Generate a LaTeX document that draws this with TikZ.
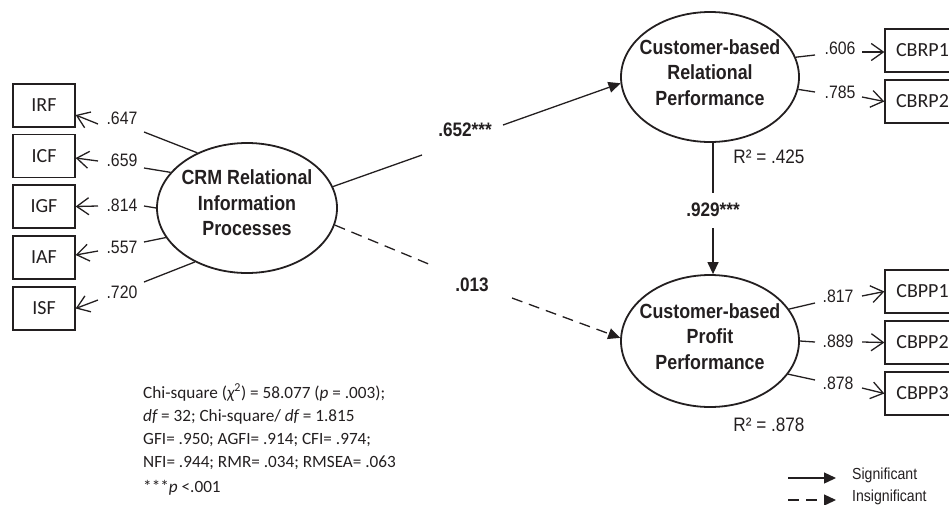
\documentclass[tikz,border=0pt]{standalone}
\usepackage{fontspec}
\setmainfont{Liberation Sans}
\newfontfamily\narrowsans[FakeStretch=0.88]{Liberation Sans}
\newfontfamily\latentfont[FakeStretch=0.87]{Liberation Sans}
\newfontfamily\calfont{Carlito}
\usetikzlibrary{shapes.geometric,arrows.meta}
\definecolor{ink}{HTML}{231F20}

\begin{document}
\begin{tikzpicture}[x=1pt,y=-1pt,
  every node/.style={text=ink},
  latent/.style={draw=ink, line width=1.8pt, ellipse, minimum width=180pt,
    minimum height=130pt, inner sep=0pt},
  latenttext/.style={font=\latentfont\bfseries\fontsize{20.5}{25.5}\selectfont,
    align=center, inner sep=0pt},
  indicator/.style={draw=ink, line width=1.3pt, minimum width=62pt,
    minimum height=43pt, inner sep=0pt, font=\calfont\fontsize{20}{22}\selectfont},
  loading/.style={font=\narrowsans\fontsize{18}{20}\selectfont, inner sep=0pt},
  pathcoef/.style={font=\narrowsans\bfseries\fontsize{19.5}{22}\selectfont, inner sep=0pt},
  rsq/.style={font=\narrowsans\fontsize{19.5}{22}\selectfont, inner sep=0pt},
  legendtext/.style={font=\narrowsans\fontsize{16}{18}\selectfont, inner sep=0pt, anchor=west},
  wire/.style={draw=ink, line width=1.3pt},
  dashedwire/.style={wire, dash pattern=on 11pt off 7pt},
  barb/.style={wire, -{Straight Barb[length=12pt,width=17pt]}},
  sig/.style={wire, -{Triangle[length=12pt,width=11pt]}},
  insig/.style={sig, dash pattern=on 11pt off 7pt},
]
\useasboundingbox (0,0) rectangle (949,504);

% latent constructs
\node[latent] (crm) at (247,208) {};
\node[latenttext] (crmtext) at (247,203) {CRM Relational\\Information\\Processes};
\node[latent, minimum width=178pt] (cbrp) at (710,77) {};
\node[latenttext] (cbrptext) at (710,72.5) {Customer-based\\Relational\\Performance};
\node[latent, minimum width=178pt, minimum height=132pt] (cbpp) at (710,341) {};
\node[latenttext] (cbpptext) at (710,336.5) {Customer-based\\Profit\\Performance};

% left indicators
\node[indicator] (irf) at (44,105.5) {IRF};
\node[indicator] (icf) at (44,156) {ICF};
\node[indicator] (igf) at (44,206.5) {IGF};
\node[indicator] (iaf) at (44,257.5) {IAF};
\node[indicator] (isf) at (44,308.5) {ISF};

% right indicators (running past the right edge)
\node[indicator, minimum width=75pt] (cbrp1) at (922.5,50.5) {CBRP1};
\node[indicator, minimum width=75pt] (cbrp2) at (922.5,101.5) {CBRP2};
\node[indicator, minimum width=75pt] (cbpp1) at (922.5,291.5) {CBPP1};
\node[indicator, minimum width=75pt] (cbpp2) at (922.5,342.5) {CBPP2};
\node[indicator, minimum width=75pt] (cbpp3) at (922.5,393.5) {CBPP3};

% loadings of the CRM construct
\coordinate (e647) at (144,132); \coordinate (t647) at (98,124);
\coordinate (e659) at (144,168); \coordinate (t659) at (98,161);
\coordinate (e814) at (144,206); \coordinate (t814) at (98,206);
\coordinate (e557) at (144,242); \coordinate (t557) at (98,251);
\coordinate (e720) at (144,282); \coordinate (t720) at (98,300);
\node[loading] (l647) at (122,118) {.647};
\node[loading] (l659) at (122,160) {.659};
\node[loading] (l814) at (122,205) {.814};
\node[loading] (l557) at (122,247) {.557};
\node[loading] (l720) at (122,292) {.720};
\draw[wire] (crm.132) -- (e647);
\draw[wire] (crm.155) -- (e659);
\draw[wire] (crm.180) -- (e814);
\draw[wire] (crm.200) -- (e557);
\draw[wire] (crm.226) -- (e720);
\draw[barb] (t647) -- ([yshift=-9.5pt]irf.east);
\draw[barb] (t659) -- ([yshift=-2pt]icf.east);
\draw[barb] (t814) -- (igf.east);
\draw[barb] (t557) -- ([yshift=2.5pt]iaf.east);
\draw[barb] (t720) -- (isf.east);

% loadings of the relational performance construct
\coordinate (e606) at (815,55); \coordinate (t606) at (862,52);
\coordinate (e785) at (815,92); \coordinate (t785) at (862,97);
\node[loading] (l606) at (840,48) {.606};
\node[loading] (l785) at (840,92) {.785};
\draw[wire] (cbrp.13) -- (e606);
\draw[wire] (cbrp.-8) -- (e785);
\draw[barb] (t606) -- ([yshift=-1.5pt]cbrp1.west);
\draw[barb] (t785) -- (cbrp2.west);

% loadings of the profit performance construct
\coordinate (e817) at (815,303); \coordinate (t817) at (862,296);
\coordinate (e889) at (815,342); \coordinate (t889) at (862,342);
\coordinate (e878) at (815,380); \coordinate (t878) at (862,388);
\node[loading] (l817) at (838,296) {.817};
\node[loading] (l889) at (838,341) {.889};
\node[loading] (l878) at (838,383) {.878};
\draw[wire] (cbpp.22) -- (e817);
\draw[wire] (cbpp.0) -- (e889);
\draw[wire] (cbpp.-23) -- (e878);
\draw[barb] (t817) -- (cbpp1.west);
\draw[barb] (t889) -- (cbpp2.west);
\draw[barb] (t878) -- (cbpp3.west);

% structural paths
\coordinate (g1) at (422,155); \coordinate (g2) at (503,125);
\coordinate (g3) at (431,265); \coordinate (g4) at (512,298);
\coordinate (g5) at (713,193); \coordinate (g6) at (713,228);
\draw[wire] (crm.14) -- (g1);
\draw[sig] (g2) -- (cbrp.184);
\node[pathcoef] (b652) at (465,130) {.652***};
\draw[dashedwire] (crm.-11) -- (g3);
\draw[insig] (g4) -- (cbpp.178);
\node[pathcoef] (b013) at (472,285) {.013};
\draw[wire] (g5 |- cbrp.south) -- (g5);
\draw[sig] (g6) -- (g6 |- cbpp.north);
\node[pathcoef] (b929) at (713,210) {.929***};

% explained variance
\node[rsq] (r425) at (769,157) {R² = .425};
\node[rsq] (r878) at (769,425) {R² = .878};

% fit statistics (anchored at the baseline of the last line)
\node[font=\calfont\fontsize{17.2}{23}\selectfont, align=left, anchor=base west, inner sep=0pt]
  (fit) at (143,492) {Chi-square ({\itshape χ}\textsuperscript{2}) = 58.077 ({\itshape p} = .003);\\
  {\itshape df} = 32; Chi-square/ {\itshape df} = 1.815\\
  GFI= .950; AGFI= .914; CFI= .974;\\
  NFI= .944; RMR= .034; RMSEA= .063\\[2pt]
  ***{\itshape p} <.001};

% legend
\coordinate (ls1) at (788,478); \coordinate (ls2) at (836,478);
\coordinate (li1) at (788,500); \coordinate (li2) at (836,500);
\draw[sig] (ls1) -- (ls2);
\draw[insig] (li1) -- (li2);
\node[legendtext] (legsig) at (852,475) {Significant};
\node[legendtext] (leginsig) at (852,497) {Insignificant};
\end{tikzpicture}
\end{document}
